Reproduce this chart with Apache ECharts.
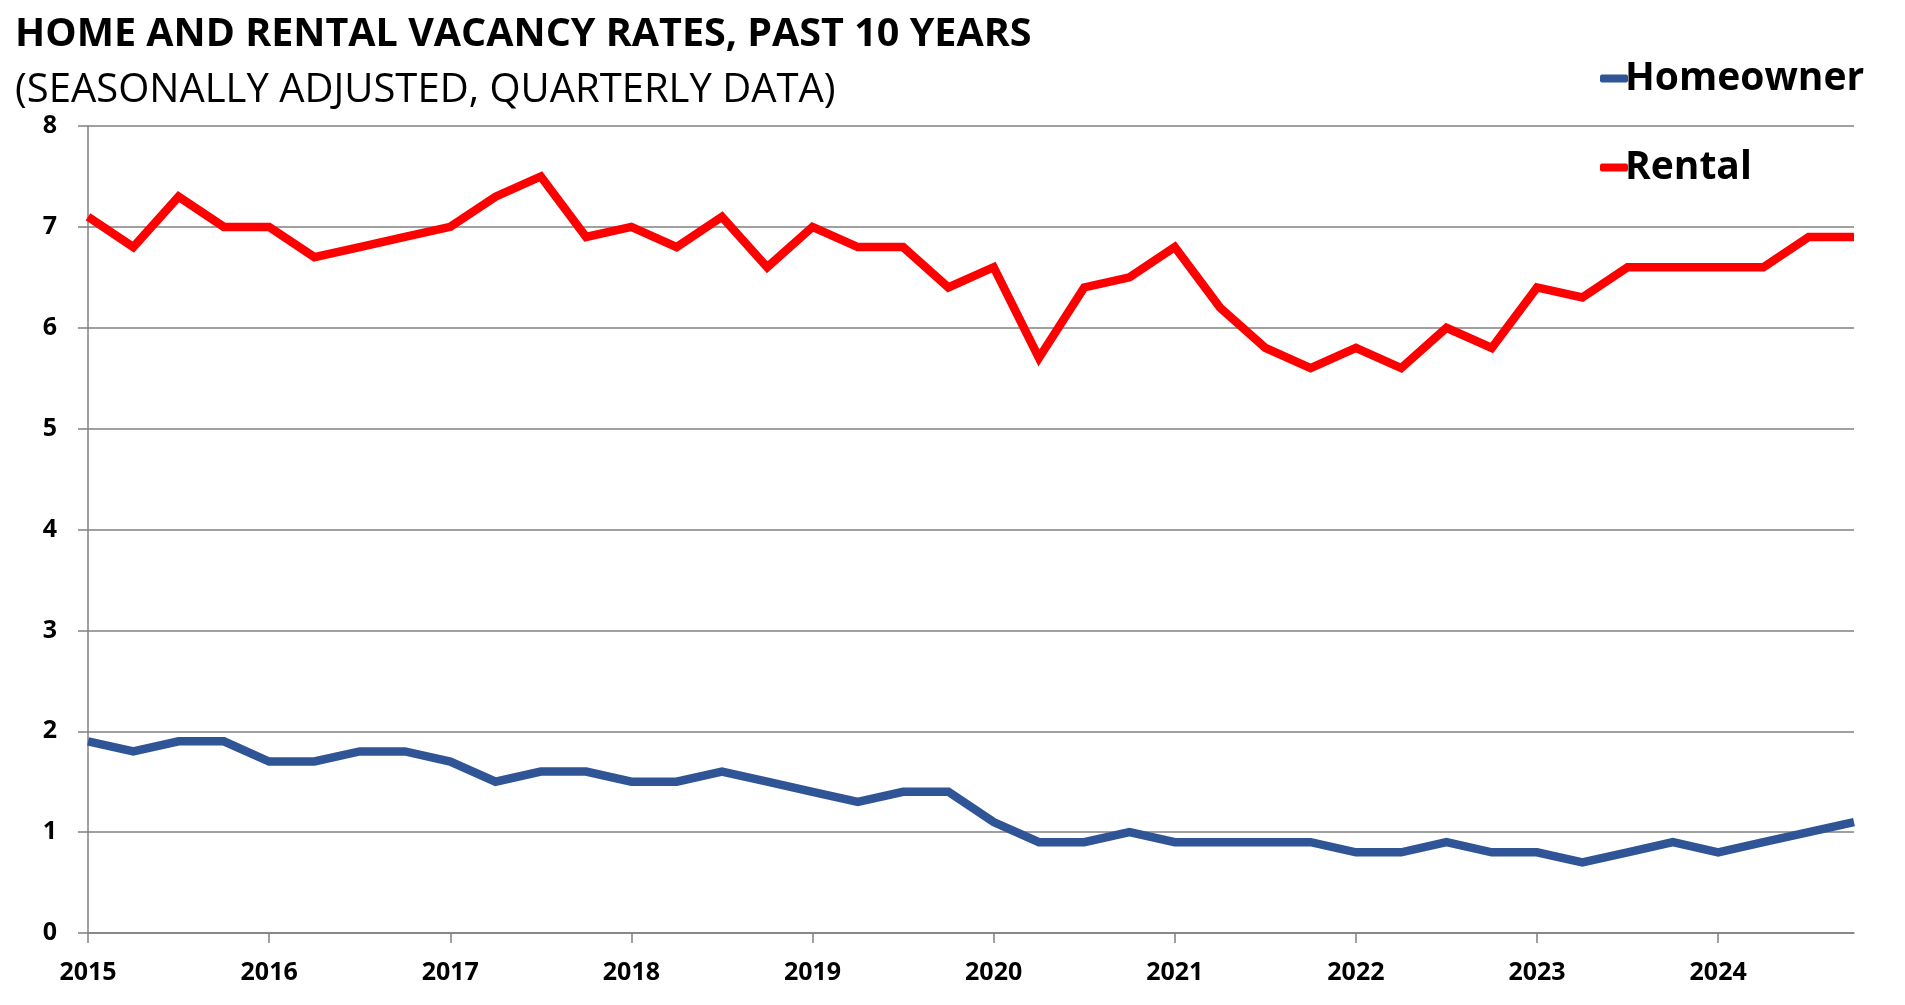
<!DOCTYPE html>
<html>
<head>
<meta charset="utf-8">
<script src="https://cdn.jsdelivr.net/npm/echarts@6/dist/echarts.min.js"></script>
<style>
  html, body { margin: 0; padding: 0; background: #fff; }
  #chart { width: 1905px; height: 1005px; }
</style>
</head>
<body>
<div id="chart"></div>
<script>
var years = ['2015', '2016', '2017', '2018', '2019', '2020', '2021', '2022', '2023', '2024'];
var quarterNames = ['Q1', 'Q2', 'Q3', 'Q4'];

// quarterly vacancy rates, 2015 Q1 .. 2024 Q4
var homeowner = [
    1.9, 1.8, 1.9, 1.9,
    1.7, 1.7, 1.8, 1.8,
    1.7, 1.5, 1.6, 1.6,
    1.5, 1.5, 1.6, 1.5,
    1.4, 1.3, 1.4, 1.4,
    1.1, 0.9, 0.9, 1.0,
    0.9, 0.9, 0.9, 0.9,
    0.8, 0.8, 0.9, 0.8,
    0.8, 0.7, 0.8, 0.9,
    0.8, 0.9, 1.0, 1.1
];
var rental = [
    7.1, 6.8, 7.3, 7.0,
    7.0, 6.7, 6.8, 6.9,
    7.0, 7.3, 7.5, 6.9,
    7.0, 6.8, 7.1, 6.6,
    7.0, 6.8, 6.8, 6.4,
    6.6, 5.7, 6.4, 6.5,
    6.8, 6.2, 5.8, 5.6,
    5.8, 5.6, 6.0, 5.8,
    6.4, 6.3, 6.6, 6.6,
    6.6, 6.6, 6.9, 6.9
];

var quarters = [];
years.forEach(function (y) {
    quarterNames.forEach(function (q) { quarters.push(y + ' ' + q); });
});

var chart = echarts.init(document.getElementById('chart'));
var font = 'Open Sans';

var option = {
    backgroundColor: '#ffffff',
    animation: false,
    title: [
        {
            text: 'HOME AND RENTAL VACANCY RATES, PAST 10 YEARS',
            left: 10, top: 10,
            textStyle: { fontFamily: font, fontSize: 39.5, fontWeight: 'bold', color: '#000' }
        },
        {
            text: '(SEASONALLY ADJUSTED, QUARTERLY DATA)',
            left: 10, top: 66,
            textStyle: { fontFamily: font, fontSize: 40, fontWeight: 'normal', color: '#000' }
        }
    ],
    legend: {
        orient: 'vertical',
        left: 1595, top: 54,
        itemGap: 50,
        itemWidth: 28, itemHeight: 8,
        icon: 'roundRect',
        textStyle: { fontFamily: font, fontSize: 39, fontWeight: 'bold', color: '#000', padding: [0, 0, 0, -8] },
        data: ['Homeowner', 'Rental']
    },
    grid: { left: 88, right: 51, top: 126, bottom: 72 },
    xAxis: {
        type: 'category',
        data: quarters,
        boundaryGap: false,
        axisLine: { lineStyle: { color: '#808080', width: 1.5 } },
        axisTick: { interval: 3, length: 10, lineStyle: { color: '#808080', width: 1.5 } },
        axisLabel: {
            interval: 3, margin: 27,
            fontFamily: font, fontSize: 25, fontWeight: 'bold', color: '#000',
            formatter: function (v) { return v.slice(0, 4); }
        },
        splitLine: { show: false }
    },
    yAxis: {
        type: 'value',
        min: 0, max: 8, interval: 1,
        axisLine: { show: true, lineStyle: { color: '#808080', width: 1.5 } },
        axisTick: { show: true, length: 10, lineStyle: { color: '#808080', width: 1.5 } },
        axisLabel: { margin: 31, fontFamily: font, fontSize: 25, fontWeight: 'bold', color: '#000' },
        splitLine: { lineStyle: { color: '#808080', width: 1.5 } }
    },
    series: [
        {
            name: 'Homeowner',
            type: 'line',
            data: homeowner,
            showSymbol: false,
            symbol: 'none',
            color: '#2F5597',
            lineStyle: { width: 8.5, color: '#2F5597', join: 'miter' }
        },
        {
            name: 'Rental',
            type: 'line',
            data: rental,
            showSymbol: false,
            symbol: 'none',
            color: '#FF0000',
            lineStyle: { width: 8.5, color: '#FF0000', join: 'miter' }
        }
    ]
};

chart.setOption(option);
</script>
</body>
</html>
